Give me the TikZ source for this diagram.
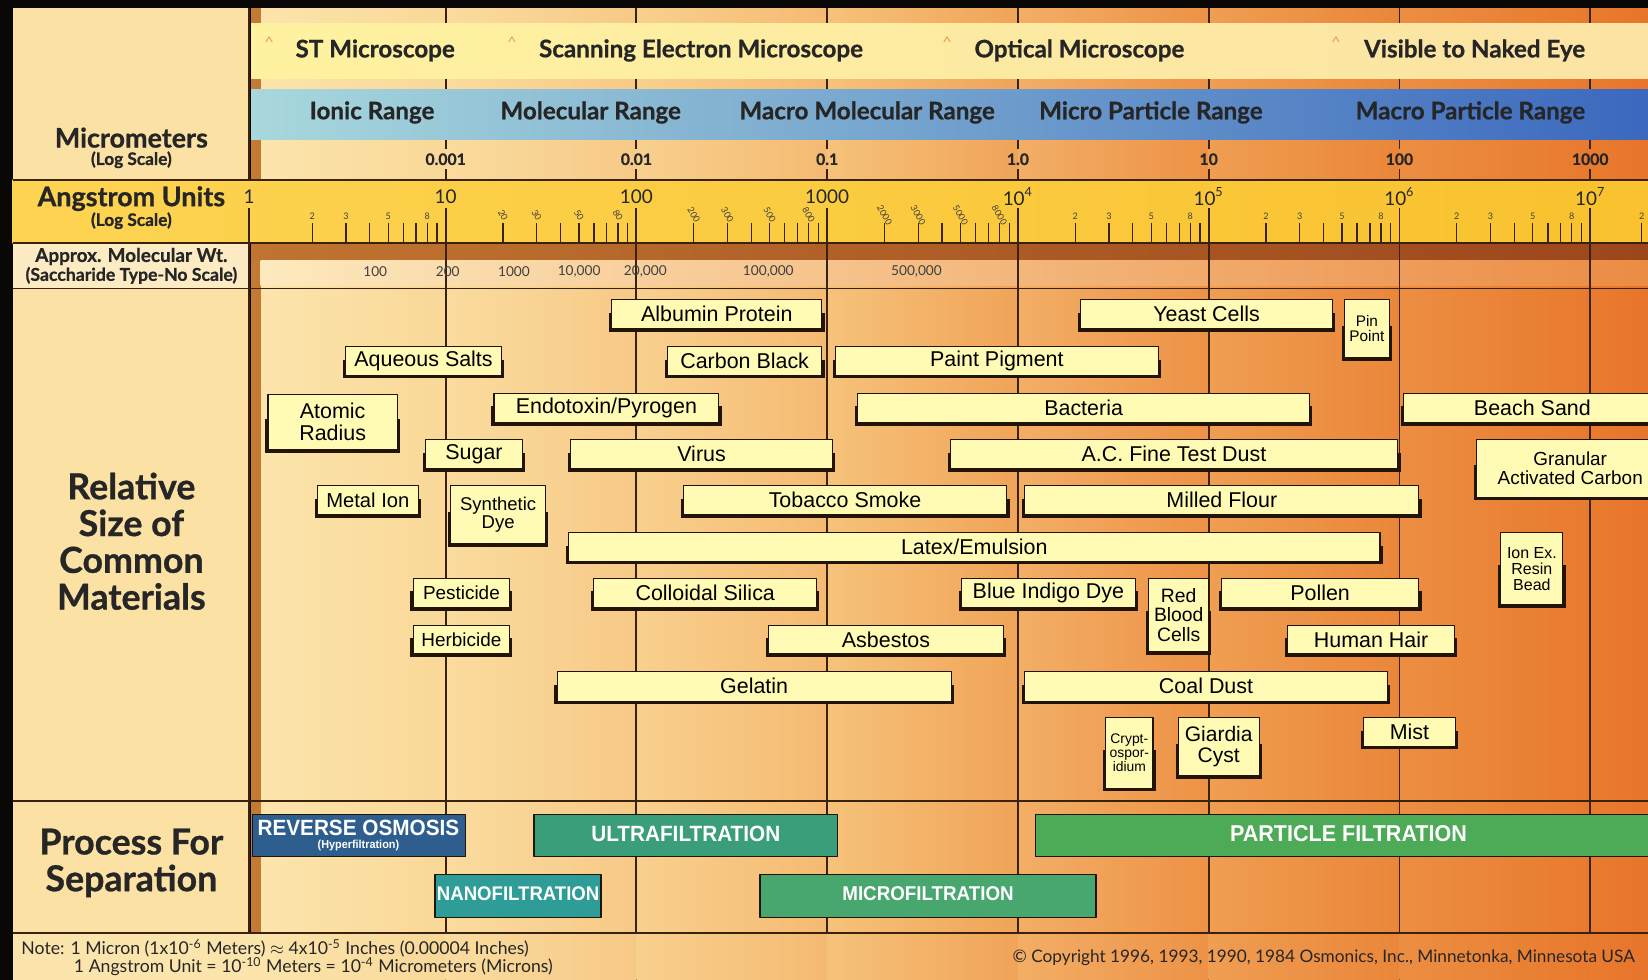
\documentclass[tikz,border=0pt]{standalone}
\usepackage{fontspec}
\setmainfont{Lato}[BoldFeatures={FakeBold=0.8}]
\newfontfamily\boxfont{Liberation Sans}
\newfontfamily\procfont[FakeStretch=0.94]{Liberation Sans}
\usetikzlibrary{positioning}
\definecolor{frame}{HTML}{0A0806}
\definecolor{ruledark}{HTML}{3A2210}
\definecolor{leftpane}{HTML}{FBE1A3}
\definecolor{leftgold}{HTML}{F8C84C}
\definecolor{leftcream}{HTML}{FDEBC4}
\definecolor{strip}{HTML}{C47A32}
\definecolor{boxfill}{HTML}{FFFAB4}
\definecolor{boxedge}{HTML}{221408}
\definecolor{rocol}{HTML}{2D5E8E}
\definecolor{ufcol}{HTML}{3A9E7A}
\definecolor{nfcol}{HTML}{2F9D97}
\definecolor{mfcol}{HTML}{48A76F}
\definecolor{pfcol}{HTML}{4DAA56}
\definecolor{caretcol}{HTML}{E9A65A}
\definecolor{scopeA}{HTML}{FEF2A0}\definecolor{scopeB}{HTML}{FCE3A4}
\definecolor{rangeA}{HTML}{A8D8DC}\definecolor{rangeB}{HTML}{6C9FD4}\definecolor{rangeC}{HTML}{3B68BE}
\definecolor{goldA}{HTML}{FDD452}\definecolor{goldB}{HTML}{F9C22E}
\definecolor{brownA}{HTML}{C07430}\definecolor{brownB}{HTML}{9C461C}
\definecolor{mwA}{HTML}{FDE9BE}\definecolor{mwB}{HTML}{F6BE7C}\definecolor{mwC}{HTML}{EB8C44}
\definecolor{bgAa}{HTML}{FCE5AC}\definecolor{bgAb}{HTML}{F9D898}
\definecolor{bgBa}{HTML}{FADC9E}\definecolor{bgBb}{HTML}{F7C987}
\definecolor{bgCa}{HTML}{F8D08E}\definecolor{bgCb}{HTML}{F5BA72}
\definecolor{bgDa}{HTML}{F6C27A}\definecolor{bgDb}{HTML}{F0A458}
\definecolor{bgEa}{HTML}{F3AE66}\definecolor{bgEb}{HTML}{ED9246}
\definecolor{bgFa}{HTML}{EF9E52}\definecolor{bgFb}{HTML}{EA863A}
\definecolor{bgGa}{HTML}{EC8E42}\definecolor{bgGb}{HTML}{E87A2E}
\definecolor{bgHa}{HTML}{E97C30}\definecolor{bgHb}{HTML}{E7742B}
\begin{document}
\begin{tikzpicture}[x=0.5pt,y=-0.5pt,line join=round,
  rulestyle/.style={draw=ruledark,line width=0.9pt},
  scaletick/.style={draw=ruledark,line width=0.6pt},
  head/.style={font=\bfseries\fontsize{11.5}{13}\selectfont,text=black!85},
  sidehead/.style={font=\bfseries\fontsize{12.8}{14}\selectfont,text=black!85},
  sidesub/.style={font=\bfseries\fontsize{8.2}{9}\selectfont,text=black!85},
  sidebig/.style={font=\bfseries\fontsize{17}{17.5}\selectfont,align=center,text=black!85},
  umlabel/.style={font=\bfseries\fontsize{7.5}{8}\selectfont,text=black!85},
  aulabel/.style={font=\fontsize{9}{10}\selectfont,text=black!85},
  ticklabel/.style={font=\fontsize{4.3}{5}\selectfont,inner sep=0pt,text=black!75},
  mwlabel/.style={font=\fontsize{6.5}{7}\selectfont,text=black!75},
  matbox/.style={draw=boxedge,line width=0.5pt,fill=boxfill},
  matshadow/.style={fill=boxedge},
  proc/.style={draw=boxedge,line width=0.7pt},
  proclabel/.style={font=\procfont\bfseries,text=white,inner sep=0pt},
  notetext/.style={font=\fontsize{8.2}{9}\selectfont,anchor=west,inner sep=0pt,text=black!85},
  caretmark/.style={draw=caretcol,line width=0.5pt}]
\useasboundingbox (0,0) rectangle (1568,932);
\clip (0,0) rectangle (1568,932);
% frame and backgrounds
\fill[frame] (0,0) rectangle (1568,932);
\foreach \xa/\xb/\ca/\cb in {239/424/bgAa/bgAb,424/605.5/bgBa/bgBb,605.5/787/bgCa/bgCb,787/968.5/bgDa/bgDb,968.5/1150/bgEa/bgEb,1150/1331.5/bgFa/bgFb,1331.5/1513/bgGa/bgGb,1513/1568/bgHa/bgHb}
  \fill[left color=\ca,right color=\cb] (\xa,8) rectangle (\xb,932);
\fill[bgAa] (12,888) rectangle (239.5,932);
\fill[leftpane] (12,8) rectangle (237,888);
\fill[strip] (239,8) rectangle (248,888);
\fill[left color=scopeA,right color=scopeB] (239,22) rectangle (1568,75);
\fill[left color=rangeA,middle color=rangeB,right color=rangeC] (239,85) rectangle (1568,133);
\fill[left color=goldA,right color=goldB] (12,171) rectangle (1568,231.5);
\fill[leftcream] (12,231.5) rectangle (237,274.5);
\fill[left color=brownA,right color=brownB] (239,231.5) rectangle (1568,247);
\fill[left color=mwA,middle color=mwB,right color=mwC] (248,248) rectangle (1568,272);
% rules
\foreach \y in {171,231.5,274.5,762,888}
  \draw[rulestyle] (12,\y) -- (1568,\y);
\draw[rulestyle] (237,8) -- (237,171) (237,231.5) -- (237,888);
\foreach \x in {424,605.5,787,968.5,1150,1331.5,1513}
  \draw[rulestyle] (\x,8) -- (\x,22) (\x,75) -- (\x,85) (\x,133) -- (\x,142) (\x,161) -- (\x,171) (\x,198) -- (\x,888);
\draw[rulestyle] (237,198) -- (237,231.5);
% angstrom scale ticks
\foreach \k in {0,...,6}
  \foreach \m in {2,...,9}{
    \pgfmathsetmacro\tx{242.5+181.5*(\k+log10(\m))}
    \draw[scaletick] (\tx,212) -- (\tx,231.5);
  }
\foreach \k/\z/\r/\ly in {0//0/206,1/0/-60/204.5,2/00/-60/204.5,3/000/-60/204.5,4//0/206,5//0/206,6//0/206}
  \foreach \m in {2,3,5,8}{
    \pgfmathsetmacro\tx{242.5+181.5*(\k+log10(\m))}
    \node[ticklabel,rotate=\r] (tl-\k-\m) at (\tx,\ly) {\m\z};
  }
\draw[scaletick] (1562,212) -- (1562,231.5);
\node[ticklabel] (tl-7-2) at (1562,206) {2};
% header bands
\foreach \x in {256,487,901,1271}
  \draw[caretmark] (\x-3,40) -- (\x,35) -- (\x+3,40);
\node[head] (stm) at (357,48) {ST Microscope};
\node[head] (sem) at (667,48) {Scanning Electron Microscope};
\node[head] (opt) at (1027,48) {Optical Microscope};
\node[head] (eye) at (1403,48) {Visible to Naked Eye};
\node[head] (ionic) at (354,107) {Ionic Range};
\node[head] (molec) at (562,107) {Molecular Range};
\node[head] (macmol) at (825,107) {Macro Molecular Range};
\node[head] (micpart) at (1095,107) {Micro Particle Range};
\node[head] (macpart) at (1399,107) {Macro Particle Range};
\foreach \x/\t [count=\i] in {424/0.001,605.5/0.01,787/0.1,968.5/1.0,1150/10,1331.5/100,1513/1000}
  \node[umlabel] (um\i) at (\x,151.5) {\t};
\foreach \x/\t [count=\i] in {237/1,424/10,605.5/100,787/1000,968.5/10\textsuperscript{4},1150/10\textsuperscript{5},1331.5/10\textsuperscript{6},1513/10\textsuperscript{7}}
  \node[aulabel] (au\i) at (\x,187) {\t};
\foreach \x/\t [count=\i] in {357/100,426/200,489/1000,551/{10,000},614/{20,000},731/{100,000},872/{500,000}}
  \node[mwlabel] (mw\i) at (\x,258) {\t};
% left column
\node[sidehead] (micro) at (125,131) {Micrometers};
\node[sidesub] (microsub) at (125,152) {(Log Scale)};
\node[sidehead] (ang) at (125,189) {Angstrom Units};
\node[sidesub] (angsub) at (125,210) {(Log Scale)};
\node[sidesub,font=\bfseries\fontsize{9}{10}\selectfont] (mw) at (125,244) {Approx. Molecular Wt.};
\node[sidesub,font=\bfseries\fontsize{8.4}{9}\selectfont] (mwsub) at (125,262) {(Saccharide Type-No Scale)};
\node[sidebig] (relsize) at (125,515) {Relative\\Size of\\Common\\Materials};
\node[sidebig] (process) at (125,821) {Process For\\Separation};
% material boxes
\foreach \n/\xa/\ya/\xb/\yb/\fs/\t in {
  albumin/582/285/782/313/10.2/Albumin Protein,
  yeast/1028/285/1268/313/10.2/Yeast Cells,
  pin/1279/285/1322/340/7.3/Pin\\Point,
  aqueous/329/330/477/357/10.2/Aqueous Salts,
  carbon/635/330/782/357/10.2/Carbon Black,
  paint/795/330/1102/357/10.2/Paint Pigment,
  atomic/255/375/378/428/10.2/Atomic\\Radius,
  endotoxin/470/374/684/402/10.2/{Endotoxin/Pyrogen},
  bacteria/816/374/1246/402/10.2/Bacteria,
  beach/1335/374/1581/402/10.2/Beach Sand,
  sugar/405/418/497/446/10.2/Sugar,
  virus/543/418/792/446/10.2/Virus,
  acdust/904/418/1330/446/10.2/A.C. Fine Test Dust,
  granular/1405/418/1583/473/9/Granular\\Activated Carbon,
  metal/302/462/398/490/9.6/Metal Ion,
  synthetic/429/462/519/517/8.8/Synthetic\\Dye,
  tobacco/650/462/958/490/10.2/Tobacco Smoke,
  milled/975/462/1350/490/10.2/Milled Flour,
  latex/541/507/1313/534/10.2/{Latex/Emulsion},
  ionex/1428/507/1487/575/7.6/Ion Ex.\\Resin\\Bead,
  pesticide/393/550/485/578/9/Pesticide,
  colloidal/565/550/777/578/10.2/Colloidal Silica,
  indigo/915/550/1080/578/10.2/Blue Indigo Dye,
  rbc/1093/550/1150/620/9.2/Red\\Blood\\Cells,
  pollen/1162/550/1350/578/10.2/Pollen,
  herbicide/393/595/485/622/9/Herbicide,
  asbestos/731/595/955/622/10.2/Asbestos,
  hair/1225/595/1384/622/10.2/Human Hair,
  gelatin/530/639/905/667/10.2/Gelatin,
  coal/975/639/1320/667/10.2/Coal Dust,
  crypto/1052/683/1097/750/6.6/Crypt-\\ospor-\\idium,
  giardia/1121/683/1198/738/10/Giardia\\Cyst,
  mist/1297/683/1385/710/10.2/Mist}{
  \fill[matshadow] ({\xa-2.5},{\ya+(\yb-\ya)*0.45}) rectangle ({\xb+2.5},{\yb+3});
  \draw[matbox] (\xa,\ya) rectangle (\xb,\yb);
  \node[font=\boxfont\fontsize{\fs}{\fs}\selectfont,align=center,inner sep=0pt] (\n) at ({(\xa+\xb)/2},{(\ya+\yb)/2}) {\t};
}
% separation processes
\draw[proc,fill=rocol] (240,775) rectangle (443,815);
\node[proclabel,font=\procfont\bfseries\fontsize{10.5}{11}\selectfont] (ro) at (341,788) {REVERSE OSMOSIS};
\node[proclabel,font=\procfont\bfseries\fontsize{5.5}{6}\selectfont] (hyper) at (341,804) {(Hyperfiltration)};
\foreach \n/\xa/\ya/\xb/\yb/\c/\fs/\t in {
  uf/508/775/797/815/ufcol/10.5/ULTRAFILTRATION,
  pf/985/775/1581/815/pfcol/10.9/PARTICLE FILTRATION,
  nf/414/832/572/873/nfcol/9.4/NANOFILTRATION,
  mf/723/832/1043/873/mfcol/9.5/MICROFILTRATION}{
  \draw[proc,fill=\c] (\xa,\ya) rectangle (\xb,\yb);
  \node[proclabel,font=\procfont\bfseries\fontsize{\fs}{\fs}\selectfont] (\n) at ({(\xa+\xb)/2},{(\ya+\yb)/2-2}) {\t};
}
% notes
\node[notetext,font=\fontsize{8.4}{9}\selectfont] (note1) at (20,902) {Note: 1 Micron (1x10\textsuperscript{-6} Meters) $\approx$ 4x10\textsuperscript{-5} Inches (0.00004 Inches)};
\node[notetext,font=\fontsize{8.4}{9}\selectfont] (note2) at (70,920) {1 Angstrom Unit = 10\textsuperscript{-10} Meters = 10\textsuperscript{-4} Micrometers (Microns)};
\node[notetext] (copyr) at (963,911) {\textcopyright{} Copyright 1996, 1993, 1990, 1984 Osmonics, Inc., Minnetonka, Minnesota USA};
\end{tikzpicture}
\end{document}
